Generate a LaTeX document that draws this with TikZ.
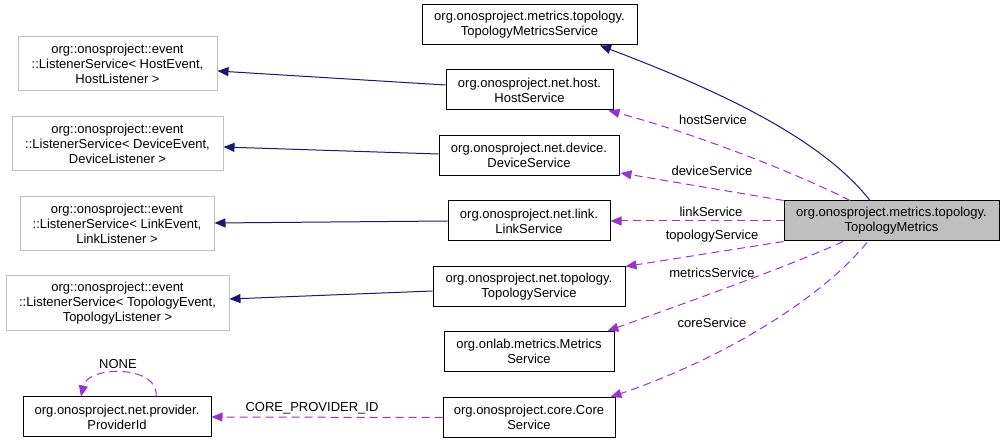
\documentclass[tikz,border=0pt]{standalone}
\usepackage{fontspec}
\setmainfont{Liberation Sans}
\usetikzlibrary{arrows.meta,calc}
\definecolor{navyc}{HTML}{191970}
\definecolor{purp}{HTML}{9A32CD}
\definecolor{lgray}{HTML}{BFBFBF}
\definecolor{lsborder}{HTML}{C0C0C0}
\begin{document}
\begin{tikzpicture}[x=1pt,y=-1pt,
  box/.style={draw=black,line width=1pt,rectangle,inner sep=0pt,align=center,
    font=\fontsize{13}{15}\selectfont},
  lsbox/.style={box,draw=lsborder},
  inh/.style={draw=navyc,line width=1pt,-{Triangle[length=11pt,width=9pt]}},
  use/.style={draw=purp,line width=1pt,dash pattern=on 8pt off 5pt,-{Triangle[length=11pt,width=9pt]}},
  lbl/.style={font=\fontsize{13}{15}\selectfont,inner sep=0pt}]
\useasboundingbox (0,0) rectangle (1005,443);

% right-hand service nodes
\node[box,minimum width=215,minimum height=40] (tms) at (529.5,25) {org.onosproject.metrics.topology.\\TopologyMetricsService};
\node[box,minimum width=167,minimum height=40] (host) at (529.5,90) {org.onosproject.net.host.\\HostService};
\node[box,minimum width=180,minimum height=40] (device) at (529,155.5) {org.onosproject.net.device.\\DeviceService};
\node[box,minimum width=162,minimum height=40] (link) at (529,221) {org.onosproject.net.link.\\LinkService};
\node[box,minimum width=192,minimum height=40] (topo) at (529,287) {org.onosproject.net.topology.\\TopologyService};
\node[box,minimum width=170,minimum height=40] (metrics) at (529,351.5) {org.onlab.metrics.Metrics\\Service};
\node[box,minimum width=172,minimum height=40] (core) at (529,417.5) {org.onosproject.core.Core\\Service};
\node[box,minimum width=188,minimum height=40] (pid) at (117,417) {org.onosproject.net.provider.\\ProviderId};
\node[box,fill=lgray,minimum width=215,minimum height=40] (tm) at (891.5,221) {org.onosproject.metrics.topology.\\TopologyMetrics};

% listener service nodes
\node[lsbox,minimum width=199,minimum height=54] (lshost) at (117.5,64) {org::onosproject::event\\::ListenerService< HostEvent,\\HostListener >};
\node[lsbox,minimum width=211,minimum height=54] (lsdevice) at (117.5,144) {org::onosproject::event\\::ListenerService< DeviceEvent,\\DeviceListener >};
\node[lsbox,minimum width=194,minimum height=54] (lslink) at (117,224) {org::onosproject::event\\::ListenerService< LinkEvent,\\LinkListener >};
\node[lsbox,minimum width=223,minimum height=55] (lstopo) at (117.5,303.5) {org::onosproject::event\\::ListenerService< TopologyEvent,\\TopologyListener >};

% inheritance edges
\draw[inh] ($(host.west)+(0,-5)$) -- ($(lshost.east)+(0,7)$);
\draw[inh] ($(device.west)+(0,-1.5)$) -- ($(lsdevice.east)+(0,3)$);
\draw[inh] (link.west) -- ($(lslink.east)+(0,-1)$);
\draw[inh] ($(topo.west)+(0,4)$) -- ($(lstopo.east)+(0,-4.5)$);
\draw[inh] ($(tm.north)+(-21.5,0)$) .. controls (815,130) and (690,80) .. ($(tms.south)+(70.5,0)$);

% usage edges
\draw[use] ($(tm.north)+(-41.5,0)$) .. controls (800,175) and (700,135) .. ($(host.south east)+(-5,0)$);
\draw[use] (tm.north west) -- ($(device.south east)+(1,-3)$);
\draw[use] (tm.west) -- (link.east);
\draw[use] (tm.south west) -- (topo.north east);
\draw[use] ($(tm.south)+(-48.5,0)$) .. controls (800,262) and (680,305) .. ($(metrics.north east)+(-7,0)$);
\draw[use] ($(tm.south)+(-24.5,1)$) .. controls (820,300) and (720,360) .. ($(core.north east)+(-5,0)$);
\draw[use] (core.west) -- (pid.east);
\draw[use] ($(pid.north)+(39,0)$) .. controls (160,365) and (88,365) .. ($(pid.north)+(-36,0)$);

% edge labels
\node[lbl] (lhost) at (713,120) {hostService};
\node[lbl] (ldevice) at (712,171) {deviceService};
\node[lbl] (llink) at (711,212) {linkService};
\node[lbl] (ltopo) at (712,236) {topologyService};
\node[lbl] (lmetrics) at (712,273) {metricsService};
\node[lbl] (lcore) at (712,323) {coreService};
\node[lbl] (lcpid) at (312,408) {CORE\_PROVIDER\_ID};
\node[lbl] (lnone) at (118,364) {NONE};
\end{tikzpicture}
\end{document}
